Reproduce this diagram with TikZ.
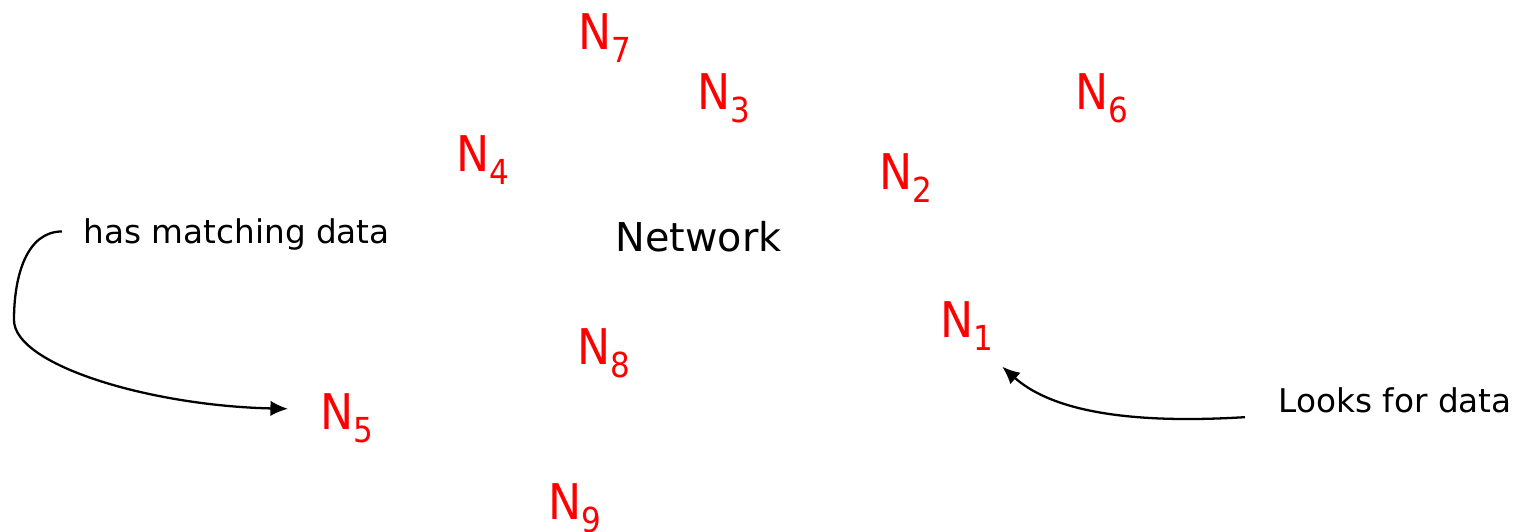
\documentclass[tikz,border=0pt]{standalone}
\usepackage{fontspec}
\setmainfont{DejaVu Sans}
\newfontfamily\peerfont{DejaVu Sans Condensed}
\usepackage{tikz}
\usetikzlibrary{positioning,arrows.meta,calc}

\newcommand{\nd}[1]{N\raisebox{-3.7pt}{\fontsize{9.8}{10}\selectfont #1}}

\tikzset{
    peer/.style={text=red, font=\peerfont\fontsize{14}{16}\selectfont, inner sep=0pt, anchor=base west},
    note/.style={text=black, font=\fontsize{9.3}{11}\selectfont, inner sep=0pt, anchor=base west},
    hint/.style={-{Latex[length=5pt,width=4.4pt]}, line width=0.65pt, black}
}

\begin{document}
\begin{tikzpicture}
\useasboundingbox (0,0) rectangle (15.22,5.32);
% peers scattered around the network
\node[peer] (n7) at (5.78,4.82) {\nd{7}};
\node[peer] (n3) at (6.97,4.22) {\nd{3}};
\node[peer] (n6) at (10.75,4.22) {\nd{6}};
\node[peer] (n4) at (4.56,3.60) {\nd{4}};
\node[peer] (n2) at (8.79,3.42) {\nd{2}};
\node[note, font=\fontsize{11.3}{13}\selectfont] (net) at (6.15,2.80) {Network};
\node[peer] (n1) at (9.40,1.94) {\nd{1}};
\node[peer] (n8) at (5.77,1.67) {\nd{8}};
\node[peer] (n5) at (3.20,1.02) {\nd{5}};
\node[peer] (n9) at (5.48,0.12) {\nd{9}};
% annotations
\node[note] (has) at (0.83,2.88) {has matching data};
\node[note] (looks) at (12.78,1.19) {Looks for data};
\coordinate (bend) at (0.14,2.12);
\draw[hint] ([xshift=-0.21cm,yshift=0.035cm]has.west) .. controls +(-0.35,0) and +(0,0.45) .. (bend)
    .. controls +(0,-0.45) and +(-1.38,0.03) .. ([xshift=-0.32cm,yshift=0.1cm]n5.west);
\draw[hint] ([xshift=-0.33cm,yshift=-0.03cm]looks.south west) .. controls +(-1.3,-0.08) and +(0.45,-0.4) .. ([xshift=0.08cm,yshift=-0.15cm]n1.south east);
\end{tikzpicture}
\end{document}
